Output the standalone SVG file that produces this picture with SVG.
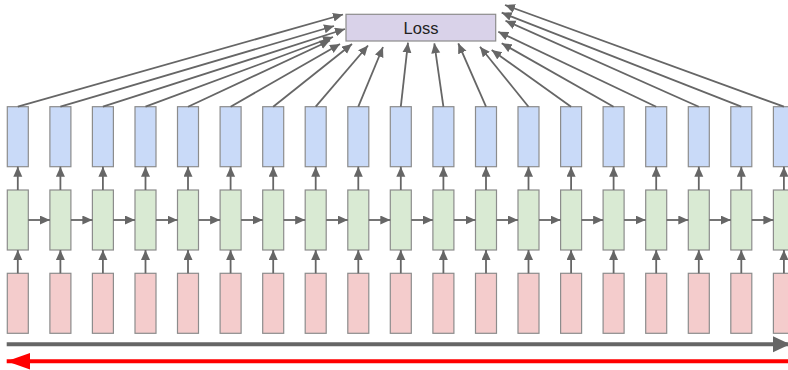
<svg xmlns="http://www.w3.org/2000/svg" width="788" height="370" viewBox="0 0 788 370">
<style>
.b{fill:#c9daf8;stroke:#8c8c8c;stroke-width:1.2}
.g{fill:#d9ead3;stroke:#8c8c8c;stroke-width:1.2}
.p{fill:#f4cccc;stroke:#8c8c8c;stroke-width:1.2}
.l{fill:#d9d2e9;stroke:#8c8c8c;stroke-width:1.2}
.c{stroke:#666;stroke-width:1.8;fill:none;marker-end:url(#ah)}
.t{font-family:"Liberation Sans",Arial,sans-serif;font-size:16.5px;fill:#222;text-anchor:middle}
</style>
<defs>
<marker id="ah" markerUnits="userSpaceOnUse" markerWidth="12" markerHeight="10" refX="10" refY="4.5" orient="auto"><path d="M0,0 L10,4.5 L0,9 Z" fill="#666"/></marker>
<marker id="big" markerUnits="userSpaceOnUse" markerWidth="20" markerHeight="18" refX="17" refY="8" orient="auto"><path d="M0,0 L17,8 L0,16 Z" fill="#666"/></marker>
<marker id="red" markerUnits="userSpaceOnUse" markerWidth="26" markerHeight="18" refX="23.5" refY="8.35" orient="auto"><path d="M0,0 L23.5,8.35 L0,16.7 Z" fill="#f00"/></marker>
</defs>
<g id="loss"><rect class="l" x="346" y="14.3" width="149.7" height="26.7"/><text class="t" x="421" y="34">Loss</text></g>
<g id="outputs">
<g id="y0"><rect class="b" x="7.3" y="106.7" width="21" height="60"/></g>
<g id="y1"><rect class="b" x="49.9" y="106.7" width="21" height="60"/></g>
<g id="y2"><rect class="b" x="92.4" y="106.7" width="21" height="60"/></g>
<g id="y3"><rect class="b" x="135" y="106.7" width="21" height="60"/></g>
<g id="y4"><rect class="b" x="177.5" y="106.7" width="21" height="60"/></g>
<g id="y5"><rect class="b" x="220.1" y="106.7" width="21" height="60"/></g>
<g id="y6"><rect class="b" x="262.7" y="106.7" width="21" height="60"/></g>
<g id="y7"><rect class="b" x="305.2" y="106.7" width="21" height="60"/></g>
<g id="y8"><rect class="b" x="347.8" y="106.7" width="21" height="60"/></g>
<g id="y9"><rect class="b" x="390.3" y="106.7" width="21" height="60"/></g>
<g id="y10"><rect class="b" x="432.9" y="106.7" width="21" height="60"/></g>
<g id="y11"><rect class="b" x="475.5" y="106.7" width="21" height="60"/></g>
<g id="y12"><rect class="b" x="518" y="106.7" width="21" height="60"/></g>
<g id="y13"><rect class="b" x="560.6" y="106.7" width="21" height="60"/></g>
<g id="y14"><rect class="b" x="603.1" y="106.7" width="21" height="60"/></g>
<g id="y15"><rect class="b" x="645.7" y="106.7" width="21" height="60"/></g>
<g id="y16"><rect class="b" x="688.3" y="106.7" width="21" height="60"/></g>
<g id="y17"><rect class="b" x="730.8" y="106.7" width="21" height="60"/></g>
<g id="y18"><rect class="b" x="773.4" y="106.7" width="21" height="60"/></g>
</g>
<g id="hidden">
<g id="h0"><rect class="g" x="7.3" y="190" width="21" height="60"/></g>
<g id="h1"><rect class="g" x="49.9" y="190" width="21" height="60"/></g>
<g id="h2"><rect class="g" x="92.4" y="190" width="21" height="60"/></g>
<g id="h3"><rect class="g" x="135" y="190" width="21" height="60"/></g>
<g id="h4"><rect class="g" x="177.5" y="190" width="21" height="60"/></g>
<g id="h5"><rect class="g" x="220.1" y="190" width="21" height="60"/></g>
<g id="h6"><rect class="g" x="262.7" y="190" width="21" height="60"/></g>
<g id="h7"><rect class="g" x="305.2" y="190" width="21" height="60"/></g>
<g id="h8"><rect class="g" x="347.8" y="190" width="21" height="60"/></g>
<g id="h9"><rect class="g" x="390.3" y="190" width="21" height="60"/></g>
<g id="h10"><rect class="g" x="432.9" y="190" width="21" height="60"/></g>
<g id="h11"><rect class="g" x="475.5" y="190" width="21" height="60"/></g>
<g id="h12"><rect class="g" x="518" y="190" width="21" height="60"/></g>
<g id="h13"><rect class="g" x="560.6" y="190" width="21" height="60"/></g>
<g id="h14"><rect class="g" x="603.1" y="190" width="21" height="60"/></g>
<g id="h15"><rect class="g" x="645.7" y="190" width="21" height="60"/></g>
<g id="h16"><rect class="g" x="688.3" y="190" width="21" height="60"/></g>
<g id="h17"><rect class="g" x="730.8" y="190" width="21" height="60"/></g>
<g id="h18"><rect class="g" x="773.4" y="190" width="21" height="60"/></g>
</g>
<g id="inputs">
<g id="x0"><rect class="p" x="7.3" y="273.3" width="21" height="60"/></g>
<g id="x1"><rect class="p" x="49.9" y="273.3" width="21" height="60"/></g>
<g id="x2"><rect class="p" x="92.4" y="273.3" width="21" height="60"/></g>
<g id="x3"><rect class="p" x="135" y="273.3" width="21" height="60"/></g>
<g id="x4"><rect class="p" x="177.5" y="273.3" width="21" height="60"/></g>
<g id="x5"><rect class="p" x="220.1" y="273.3" width="21" height="60"/></g>
<g id="x6"><rect class="p" x="262.7" y="273.3" width="21" height="60"/></g>
<g id="x7"><rect class="p" x="305.2" y="273.3" width="21" height="60"/></g>
<g id="x8"><rect class="p" x="347.8" y="273.3" width="21" height="60"/></g>
<g id="x9"><rect class="p" x="390.3" y="273.3" width="21" height="60"/></g>
<g id="x10"><rect class="p" x="432.9" y="273.3" width="21" height="60"/></g>
<g id="x11"><rect class="p" x="475.5" y="273.3" width="21" height="60"/></g>
<g id="x12"><rect class="p" x="518" y="273.3" width="21" height="60"/></g>
<g id="x13"><rect class="p" x="560.6" y="273.3" width="21" height="60"/></g>
<g id="x14"><rect class="p" x="603.1" y="273.3" width="21" height="60"/></g>
<g id="x15"><rect class="p" x="645.7" y="273.3" width="21" height="60"/></g>
<g id="x16"><rect class="p" x="688.3" y="273.3" width="21" height="60"/></g>
<g id="x17"><rect class="p" x="730.8" y="273.3" width="21" height="60"/></g>
<g id="x18"><rect class="p" x="773.4" y="273.3" width="21" height="60"/></g>
</g>
<g id="connectors">
<g class="toloss">
<path class="c" d="M17.8,106.7L343,14.5"/>
<path class="c" d="M60.4,106.7L334,26"/>
<path class="c" d="M102.9,106.7L345,29"/>
<path class="c" d="M145.5,106.7L333,37"/>
<path class="c" d="M188,106.7L330,40.5"/>
<path class="c" d="M230.6,106.7L340,44"/>
<path class="c" d="M273.2,106.7L352,44"/>
<path class="c" d="M315.7,106.7L368,45.5"/>
<path class="c" d="M358.3,106.7L383,47"/>
<path class="c" d="M400.8,106.7L408,42.7"/>
<path class="c" d="M443.4,106.7L434.3,43.3"/>
<path class="c" d="M486,106.7L458.3,43.3"/>
<path class="c" d="M528.5,106.7L480,46.7"/>
<path class="c" d="M571.1,106.7L491.7,50"/>
<path class="c" d="M613.6,106.7L501.7,43.3"/>
<path class="c" d="M656.2,106.7L498.3,31.7"/>
<path class="c" d="M698.8,106.7L505.5,20.7"/>
<path class="c" d="M741.3,106.7L501.7,12.7"/>
<path class="c" d="M783.9,106.7L505,5"/>
</g>
<g class="up">
<path class="c" d="M17.8,273.3V250"/><path class="c" d="M60.4,273.3V250"/><path class="c" d="M102.9,273.3V250"/><path class="c" d="M145.5,273.3V250"/><path class="c" d="M188,273.3V250"/><path class="c" d="M230.6,273.3V250"/><path class="c" d="M273.2,273.3V250"/><path class="c" d="M315.7,273.3V250"/><path class="c" d="M358.3,273.3V250"/><path class="c" d="M400.8,273.3V250"/><path class="c" d="M443.4,273.3V250"/><path class="c" d="M486,273.3V250"/><path class="c" d="M528.5,273.3V250"/><path class="c" d="M571.1,273.3V250"/><path class="c" d="M613.6,273.3V250"/><path class="c" d="M656.2,273.3V250"/><path class="c" d="M698.8,273.3V250"/><path class="c" d="M741.3,273.3V250"/><path class="c" d="M783.9,273.3V250"/>
<path class="c" d="M17.8,190V166.7"/><path class="c" d="M60.4,190V166.7"/><path class="c" d="M102.9,190V166.7"/><path class="c" d="M145.5,190V166.7"/><path class="c" d="M188,190V166.7"/><path class="c" d="M230.6,190V166.7"/><path class="c" d="M273.2,190V166.7"/><path class="c" d="M315.7,190V166.7"/><path class="c" d="M358.3,190V166.7"/><path class="c" d="M400.8,190V166.7"/><path class="c" d="M443.4,190V166.7"/><path class="c" d="M486,190V166.7"/><path class="c" d="M528.5,190V166.7"/><path class="c" d="M571.1,190V166.7"/><path class="c" d="M613.6,190V166.7"/><path class="c" d="M656.2,190V166.7"/><path class="c" d="M698.8,190V166.7"/><path class="c" d="M741.3,190V166.7"/><path class="c" d="M783.9,190V166.7"/>
</g>
<g class="right">
<path class="c" d="M28.3,220H49.9"/><path class="c" d="M70.9,220H92.4"/><path class="c" d="M113.4,220H135"/><path class="c" d="M156,220H177.5"/><path class="c" d="M198.5,220H220.1"/><path class="c" d="M241.1,220H262.7"/><path class="c" d="M283.7,220H305.2"/><path class="c" d="M326.2,220H347.8"/><path class="c" d="M368.8,220H390.3"/><path class="c" d="M411.3,220H432.9"/><path class="c" d="M453.9,220H475.5"/><path class="c" d="M496.5,220H518"/><path class="c" d="M539,220H560.6"/><path class="c" d="M581.6,220H603.1"/><path class="c" d="M624.1,220H645.7"/><path class="c" d="M666.7,220H688.3"/><path class="c" d="M709.3,220H730.8"/><path class="c" d="M751.8,220H773.4"/>
</g>
<path d="M6.7,344.3H790" stroke="#666" stroke-width="4" fill="none" marker-end="url(#big)"/>
<path d="M790,361.3H6.7" stroke="#f00" stroke-width="4" fill="none" marker-end="url(#red)"/>
</g>
</svg>
